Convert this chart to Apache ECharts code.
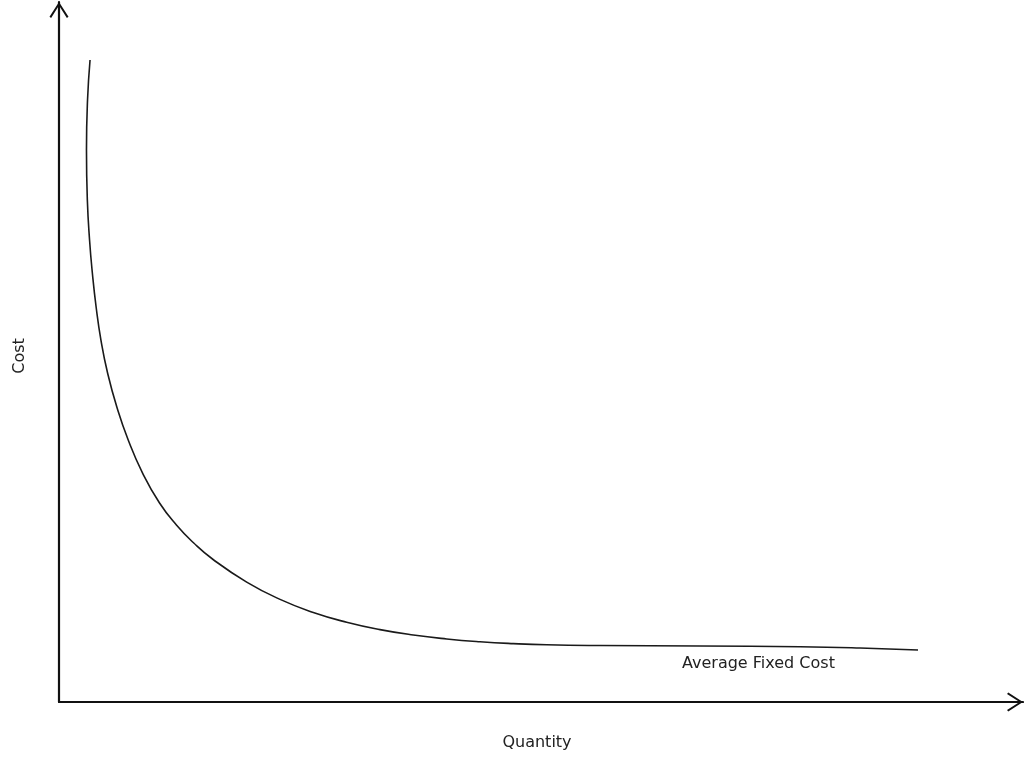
<!DOCTYPE html>
<html>
<head>
<meta charset="utf-8">
<script src="https://cdn.jsdelivr.net/npm/echarts@6/dist/echarts.min.js"></script>
<style>html,body{margin:0;padding:0;background:#fff;}#c{width:1024px;height:761px;}</style>
</head>
<body>
<div id="c"></div>
<script>
// Quantity (x) and Cost (y), both on a 0–100 scale
var quantity = [3.22, 2.96, 2.85, 2.94, 3.17, 3.46, 3.85, 4.35, 5.04, 6.00, 7.18, 8.67, 10.43, 12.18, 13.98, 15.92, 19.47, 22.93, 26.38, 29.84, 33.30, 36.75, 40.22, 43.67, 47.13, 50.59, 56.12, 66.49, 76.87, 83.09, 89.11];
var cost     = [91.71, 86.00, 78.86, 71.71, 66.00, 61.29, 56.43, 51.71, 47.00, 42.14, 37.43, 32.71, 28.43, 25.29, 22.71, 20.43, 17.13, 14.66, 12.79, 11.39, 10.34, 9.57, 9.01, 8.61, 8.34, 8.17, 8.07, 8.01, 7.89, 7.71, 7.43];
var seriesName = 'Average Fixed Cost';
var xName = 'Quantity';
var yName = 'Cost';

var points = quantity.map(function (q, i) { return [q, cost[i]]; });
var chevron = 'path://M10,0 L20,15.5 L18.3,16.8 L10,3.6 L1.7,16.8 L0,15.5 Z';
var font = '"DejaVu Sans", sans-serif';

var chart = echarts.init(document.getElementById('c'));
chart.setOption({
  animation: false,
  backgroundColor: '#ffffff',
  grid: { left: 59, right: 1, top: 2, bottom: 59, containLabel: false },
  xAxis: {
    type: 'value', min: 0, max: 100,
    axisLine: { show: true, symbol: ['none', chevron], symbolSize: [19, 17], symbolOffset: [0, -8],
      lineStyle: { color: '#111', width: 2.2 } },
    axisTick: { show: false }, axisLabel: { show: false }, splitLine: { show: false }
  },
  yAxis: {
    type: 'value', min: 0, max: 100,
    axisLine: { show: true, symbol: ['none', chevron], symbolSize: [19, 17], symbolOffset: [0, -8],
      lineStyle: { color: '#111', width: 2.2 } },
    axisTick: { show: false }, axisLabel: { show: false }, splitLine: { show: false }
  },
  graphic: [
    { type: 'text', x: 537, y: 743, style: { text: xName, font: '16px ' + font, fill: '#222', textAlign: 'center', textVerticalAlign: 'middle' } },
    { type: 'text', x: 20, y: 356, rotation: Math.PI / 2, style: { text: yName, font: '16px ' + font, fill: '#222', textAlign: 'center', textVerticalAlign: 'middle' } },
    { type: 'text', x: 682, y: 664, style: { text: seriesName, font: '16px ' + font, fill: '#222', textAlign: 'left', textVerticalAlign: 'middle' } }
  ],
  series: [{
    name: seriesName, type: 'line', data: points, smooth: 0.5, showSymbol: false,
    lineStyle: { color: '#1a1a1a', width: 1.6 }
  }]
});
</script>
</body>
</html>
